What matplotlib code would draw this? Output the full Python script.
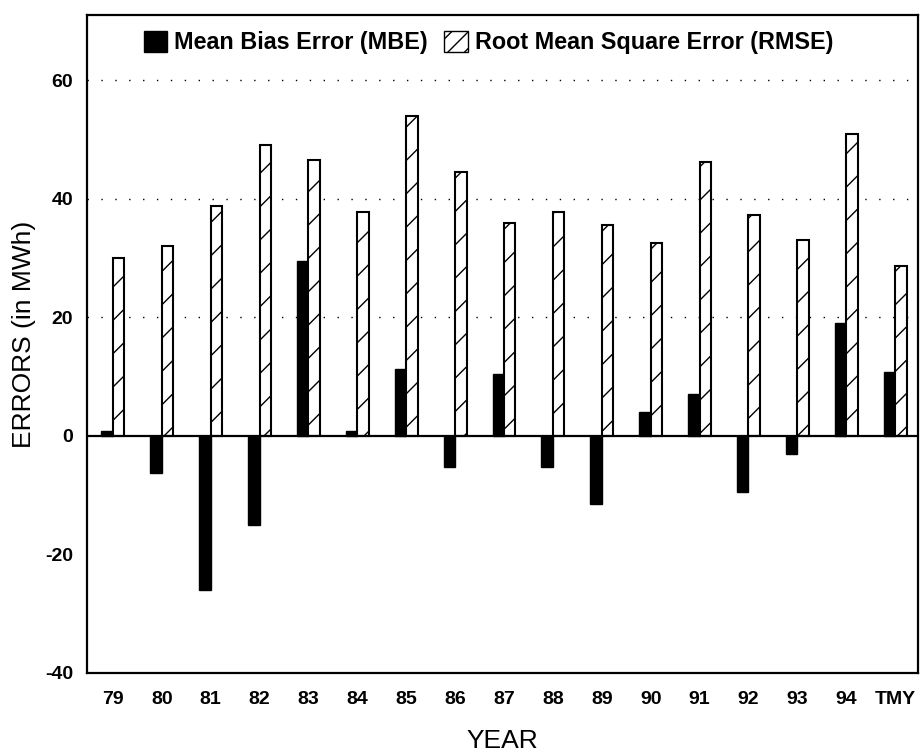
import matplotlib
matplotlib.use("Agg")
import matplotlib.pyplot as plt
import numpy as np
from matplotlib.patches import Patch

years = ["79", "80", "81", "82", "83", "84", "85", "86", "87", "88",
         "89", "90", "91", "92", "93", "94", "TMY"]
mbe = [0.8, -6.2, -26.0, -15.0, 29.5, 0.8, 11.2, -5.2, 10.5, -5.2,
       -11.5, 4.0, 7.0, -9.5, -3.0, 19.0, 10.7]
rmse = [30.0, 32.0, 38.8, 49.0, 46.5, 37.8, 54.0, 44.5, 36.0, 37.8,
        35.5, 32.5, 46.2, 37.3, 33.0, 51.0, 28.7]
yticks = [-40, -20, 0, 20, 40, 60]

plt.rcParams['font.family'] = ['Liberation Sans', 'DejaVu Sans']
plt.rcParams['hatch.linewidth'] = 1.0
plt.rcParams['axes.unicode_minus'] = False

fig = plt.figure(figsize=(9.22, 7.56), dpi=100)
ax = fig.add_axes([0.0944, 0.110, 0.9013, 0.870])

x = np.arange(len(years))
w = 0.235
ax.bar(x - w / 2, mbe, width=w, color='black', edgecolor='black', lw=1.0, zorder=3)
ax.bar(x + w / 2, rmse, width=w, color='white', edgecolor='black', lw=1.5,
       hatch='/', zorder=3)

for v in yticks:
    if v > 0:
        ax.axhline(v, color='black', lw=1.0, ls=(0, (1, 9)), zorder=1)
ax.axhline(0, color='black', lw=1.6, zorder=4)

ax.set_xlim(-0.53, 16.47)
ax.set_ylim(-40, 71)
ax.set_yticks(yticks)
ax.set_xticks(x)
ax.set_xticklabels(years)
ax.tick_params(axis='both', length=0, labelsize=14)
ax.tick_params(axis='x', pad=13)
ax.tick_params(axis='y', pad=10)
for lab in ax.get_xticklabels() + ax.get_yticklabels():
    lab.set_fontweight('bold')

for s in ax.spines.values():
    s.set_linewidth(1.6)

ax.set_xlabel("YEAR", fontsize=19)
ax.xaxis.set_label_coords(0.5, -0.086)
ax.set_ylabel("ERRORS (in MWh)", fontsize=19)
ax.yaxis.set_label_coords(-0.062, 0.514)

handles = [Patch(facecolor='black', edgecolor='black'),
           Patch(facecolor='white', edgecolor='black', hatch='//')]
ax.legend(handles, ["Mean Bias Error (MBE)", "Root Mean Square Error (RMSE)"],
          loc='upper center', bbox_to_anchor=(0.483, 1.008), ncol=2,
          frameon=False, prop={'size': 16.8, 'weight': 'bold'},
          handlelength=1.0, handleheight=1.0, handletextpad=0.3,
          columnspacing=0.7)

fig.savefig("out.png", dpi=100)
